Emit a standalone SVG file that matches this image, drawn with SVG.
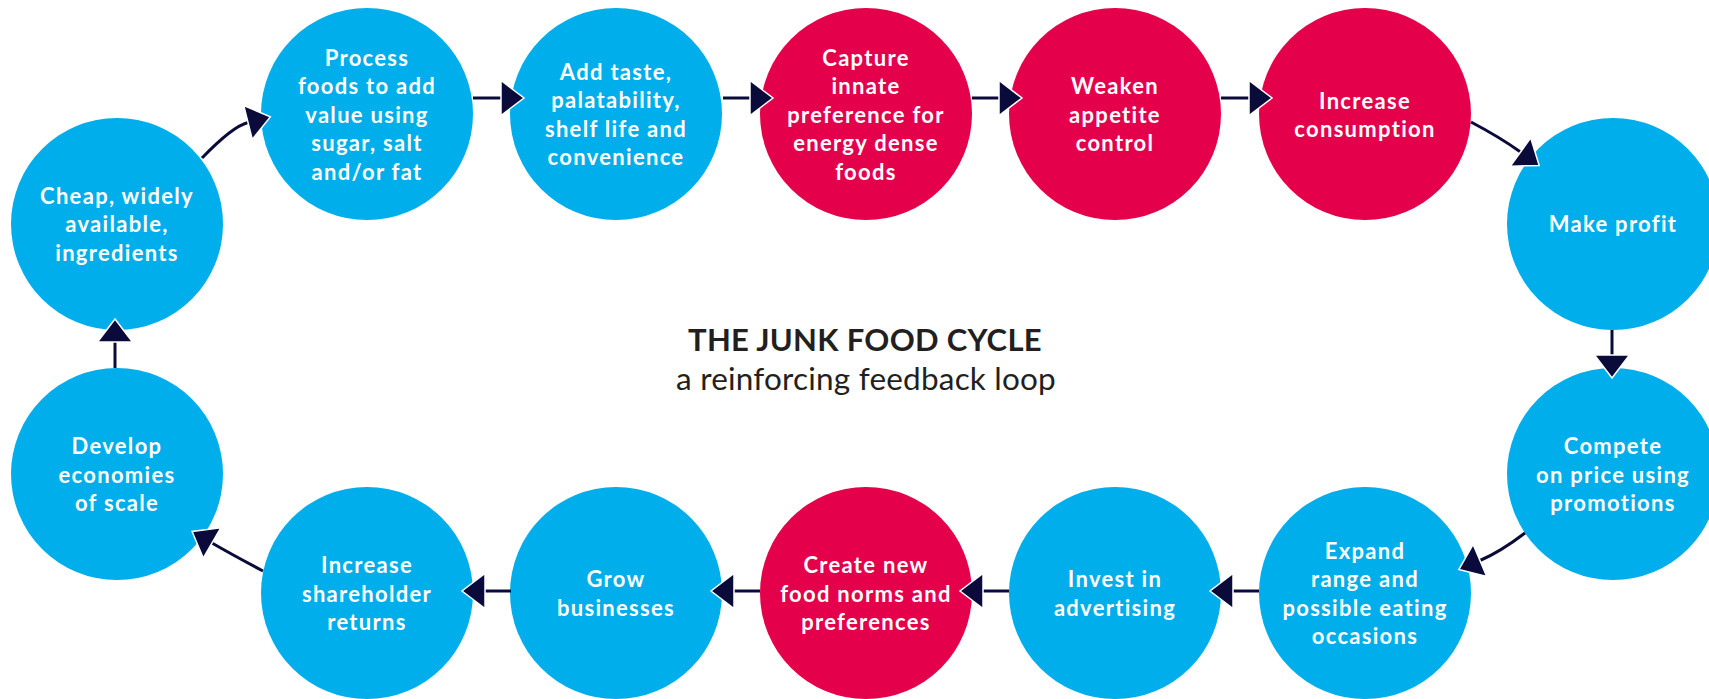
<svg xmlns="http://www.w3.org/2000/svg" width="1709" height="699" viewBox="0 0 1709 699">
<style>
.blue{fill:#00AEEB}
.red{fill:#E5004B}
.lbl{font-family:Lato,"Open Sans","Liberation Sans",sans-serif;font-weight:700;font-size:22px;letter-spacing:1.3px;fill:#fff;text-anchor:middle}
.conn{fill:none;stroke:#0B0B3B;stroke-width:3}
.t1{font-family:Lato,"Open Sans","Liberation Sans",sans-serif;font-weight:700;font-size:31px;letter-spacing:0.3px;fill:#231F20;text-anchor:middle}
.t2{font-family:Lato,"Open Sans","Liberation Sans",sans-serif;font-weight:400;font-size:31.5px;letter-spacing:0.2px;fill:#231F20;text-anchor:middle}
</style>
<defs>
<marker id="ah" markerUnits="userSpaceOnUse" markerWidth="30" markerHeight="40" refX="0" refY="17.5" orient="auto" overflow="visible">
<path d="M0,0 L23,17.5 L0,35 Z" fill="#0B0B3B" stroke="#fff" stroke-width="1.5" stroke-linejoin="miter"/>
</marker>
</defs>
<rect width="1709" height="699" fill="#fff"/>

<g id="n-cheap"><circle class="blue" cx="117" cy="224" r="106"/>
<text class="lbl" x="117" y="203.5">Cheap, widely</text><text class="lbl" x="117" y="232">available,</text><text class="lbl" x="117" y="260.5">ingredients</text></g>

<g id="n-process"><circle class="blue" cx="367" cy="114" r="106"/>
<text class="lbl" x="367" y="65.5">Process</text><text class="lbl" x="367" y="94">foods to add</text><text class="lbl" x="367" y="122.5">value using</text><text class="lbl" x="367" y="151">sugar, salt</text><text class="lbl" x="367" y="179.5">and/or fat</text></g>

<g id="n-add"><circle class="blue" cx="616" cy="114" r="106"/>
<text class="lbl" x="616" y="79.5">Add taste,</text><text class="lbl" x="616" y="108">palatability,</text><text class="lbl" x="616" y="136.5">shelf life and</text><text class="lbl" x="616" y="165">convenience</text></g>

<g id="n-capture"><circle class="red" cx="866" cy="114" r="106"/>
<text class="lbl" x="866" y="65.5">Capture</text><text class="lbl" x="866" y="94">innate</text><text class="lbl" x="866" y="122.5">preference for</text><text class="lbl" x="866" y="151">energy dense</text><text class="lbl" x="866" y="179.5">foods</text></g>

<g id="n-weaken"><circle class="red" cx="1115" cy="114" r="106"/>
<text class="lbl" x="1115" y="94">Weaken</text><text class="lbl" x="1115" y="122.5">appetite</text><text class="lbl" x="1115" y="151">control</text></g>

<g id="n-consumption"><circle class="red" cx="1365" cy="114" r="106"/>
<text class="lbl" x="1365" y="108.5">Increase</text><text class="lbl" x="1365" y="137">consumption</text></g>

<g id="n-profit"><circle class="blue" cx="1613" cy="224" r="106"/>
<text class="lbl" x="1613" y="232">Make profit</text></g>

<g id="n-compete"><circle class="blue" cx="1613" cy="474" r="106"/>
<text class="lbl" x="1613" y="454">Compete</text><text class="lbl" x="1613" y="482.5">on price using</text><text class="lbl" x="1613" y="511">promotions</text></g>

<g id="n-expand"><circle class="blue" cx="1365" cy="593" r="106"/>
<text class="lbl" x="1365" y="558.5">Expand</text><text class="lbl" x="1365" y="587">range and</text><text class="lbl" x="1365" y="615.5">possible eating</text><text class="lbl" x="1365" y="644">occasions</text></g>

<g id="n-invest"><circle class="blue" cx="1115" cy="593" r="106"/>
<text class="lbl" x="1115" y="587">Invest in</text><text class="lbl" x="1115" y="615.5">advertising</text></g>

<g id="n-create"><circle class="red" cx="866" cy="593" r="106"/>
<text class="lbl" x="866" y="573">Create new</text><text class="lbl" x="866" y="601.5">food norms and</text><text class="lbl" x="866" y="630">preferences</text></g>

<g id="n-grow"><circle class="blue" cx="616" cy="593" r="106"/>
<text class="lbl" x="616" y="587">Grow</text><text class="lbl" x="616" y="615.5">businesses</text></g>

<g id="n-shareholder"><circle class="blue" cx="367" cy="593" r="106"/>
<text class="lbl" x="367" y="573">Increase</text><text class="lbl" x="367" y="601.5">shareholder</text><text class="lbl" x="367" y="630">returns</text></g>

<g id="n-develop"><circle class="blue" cx="117" cy="474" r="106"/>
<text class="lbl" x="117" y="454">Develop</text><text class="lbl" x="117" y="482.5">economies</text><text class="lbl" x="117" y="511">of scale</text></g>

<g id="connectors">
<path class="conn" d="M202,158 Q232.5,126.4 248,122.5" marker-end="url(#ah)"/>
<path class="conn" d="M473,98 L501,98" marker-end="url(#ah)"/>
<path class="conn" d="M723,98 L750,98" marker-end="url(#ah)"/>
<path class="conn" d="M972,98 L999,98" marker-end="url(#ah)"/>
<path class="conn" d="M1221,98 L1249,98" marker-end="url(#ah)"/>
<path class="conn" d="M1471,122 Q1500.2,137.4 1520.5,152" marker-end="url(#ah)"/>
<path class="conn" d="M1612,330 L1612,355" marker-end="url(#ah)"/>
<path class="conn" d="M1525,533 Q1500.2,551.9 1480,560.5" marker-end="url(#ah)"/>
<path class="conn" d="M1259,591 L1233,591" marker-end="url(#ah)"/>
<path class="conn" d="M1009,591 L983,591" marker-end="url(#ah)"/>
<path class="conn" d="M760,591 L734,591" marker-end="url(#ah)"/>
<path class="conn" d="M511,591 L485,591" marker-end="url(#ah)"/>
<path class="conn" d="M263,571 Q233.6,555.5 212,543" marker-end="url(#ah)"/>
<path class="conn" d="M115,368 L115,342" marker-end="url(#ah)"/>
</g>

<g id="title">
<text class="t1" x="865" y="351">THE JUNK FOOD CYCLE</text>
<text class="t2" x="866" y="389.5">a reinforcing feedback loop</text>
</g>
</svg>
